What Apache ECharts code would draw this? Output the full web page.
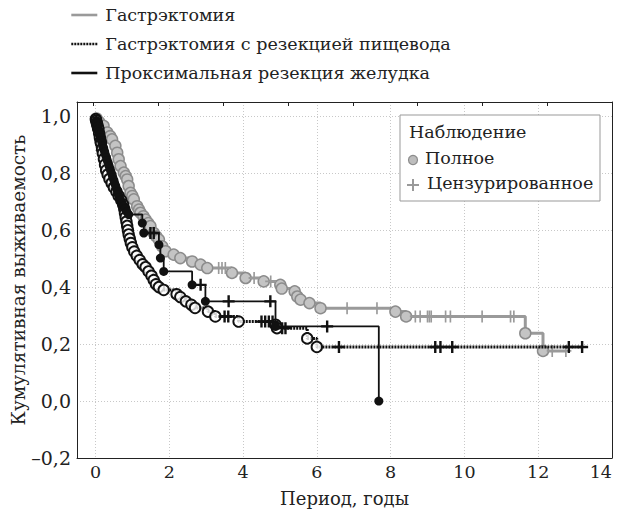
<!DOCTYPE html>
<html>
<head>
<meta charset="utf-8">
<script src="https://cdn.jsdelivr.net/npm/echarts@6/dist/echarts.min.js"></script>
<style>html,body{margin:0;padding:0;background:#fff}#c{width:621px;height:523px}</style>
</head>
<body>
<div id="c"></div>
<script>
// ---- data ----
const seriesNames = ['Гастрэктомия', 'Гастрэктомия с резекцией пищевода', 'Проксимальная резекция желудка'];
const xTicks = [0, 2, 4, 6, 8, 10, 12, 14];
const yTicks = [-0.2, 0, 0.2, 0.4, 0.6, 0.8, 1.0];

// Гастрэктомия: events [time, survival]
const gastEvents = [[0.03,0.992],[0.10,0.980],[0.22,0.966],[0.32,0.943],[0.40,0.930],[0.45,0.919],[0.54,0.896],[0.59,0.872],[0.63,0.849],[0.68,0.825],[0.77,0.802],[0.82,0.790],[0.86,0.778],[0.90,0.755],[0.95,0.731],[1.00,0.720],[1.04,0.708],[1.13,0.684],[1.18,0.672],[1.22,0.661],[1.30,0.649],[1.36,0.637],[1.43,0.625],[1.49,0.614],[1.58,0.59],[1.65,0.578],[1.72,0.567],[1.81,0.543],[1.90,0.526],[2.12,0.514],[2.30,0.502],[2.62,0.49],[2.85,0.479],[3.03,0.467],[3.70,0.45],[4.07,0.432],[4.56,0.42],[5.01,0.408],[5.05,0.395],[5.40,0.385],[5.47,0.367],[5.56,0.356],[5.80,0.344],[6.10,0.326],[8.13,0.314],[8.42,0.297],[11.65,0.238],[12.13,0.176]];
const gastCensored = [3.34,3.43,3.52,4.30,4.75,6.82,7.63,8.67,8.80,9.00,9.05,9.10,9.49,9.62,10.48,11.25,11.34,12.38,12.75];
const gastEnd = 12.75;

// Гастрэктомия с резекцией пищевода
const esoEvents = [[0.01,0.99],[0.02,0.985],[0.04,0.975],[0.05,0.97],[0.07,0.96],[0.08,0.955],[0.10,0.94],[0.12,0.925],[0.14,0.912],[0.15,0.905],[0.18,0.885],[0.20,0.87],[0.23,0.85],[0.26,0.83],[0.29,0.81],[0.33,0.795],[0.38,0.78],[0.44,0.765],[0.50,0.75],[0.57,0.735],[0.63,0.72],[0.70,0.705],[0.75,0.69],[0.78,0.675],[0.80,0.66],[0.82,0.645],[0.84,0.63],[0.86,0.615],[0.88,0.60],[0.90,0.585],[0.93,0.57],[0.96,0.555],[1.00,0.54],[1.05,0.525],[1.12,0.51],[1.20,0.495],[1.28,0.48],[1.36,0.47],[1.44,0.455],[1.52,0.44],[1.58,0.425],[1.64,0.41],[1.72,0.40],[1.85,0.39],[2.20,0.375],[2.30,0.365],[2.45,0.35],[2.60,0.338],[2.70,0.327],[3.05,0.314],[3.25,0.297],[3.88,0.279],[4.88,0.268],[4.92,0.256],[5.74,0.22],[6.00,0.19]];
const esoCensored = [3.50,3.60,4.50,4.60,4.70,4.80,5.06,5.15,6.60,9.21,9.35,9.67,12.83,13.19];
const esoEnd = 13.2;

// Проксимальная резекция желудка
const proxEvents = [[0.02,0.985],[0.04,0.975],[0.06,0.965],[0.08,0.955],[0.10,0.945],[0.12,0.935],[0.14,0.925],[0.16,0.915],[0.18,0.905],[0.20,0.895],[0.22,0.885],[0.25,0.875],[0.27,0.865],[0.30,0.855],[0.32,0.845],[0.35,0.835],[0.37,0.825],[0.40,0.815],[0.42,0.805],[0.45,0.795],[0.47,0.785],[0.50,0.775],[0.52,0.765],[0.55,0.755],[0.57,0.745],[0.60,0.735],[0.62,0.725],[0.65,0.715],[0.68,0.705],[0.72,0.695],[0.76,0.685],[0.80,0.675],[0.85,0.665],[0.90,0.655],[1.27,0.625],[1.31,0.59],[1.72,0.549],[1.76,0.502],[1.85,0.455],[2.62,0.408],[2.98,0.35],[4.88,0.262],[7.68,0.0]];
const proxCensored = [1.49,1.58,2.85,3.61,4.74,6.28];
const proxEnd = 7.68;

// ---- helpers ----
function survAt(events, t) {
  let s = 1.0;
  for (const e of events) { if (e[0] <= t) s = e[1]; }
  return s;
}
function stepLine(events, censored, end) {
  const pts = [[0, 1.0]];
  const all = events.map(e => [e[0], e[1]]).concat(censored.map(t => [t, survAt(events, t)]));
  all.sort((a, b) => a[0] - b[0]);
  all.forEach(p => pts.push(p));
  pts.push([end, survAt(events, end)]);
  return pts;
}
function censPts(events, censored) {
  return censored.map(t => [t, survAt(events, t)]);
}

const PLUS = 'path://M4,0H6V4H10V6H6V10H4V6H0V4H4Z';
const PLUS_THIN = 'path://M4.25,0H5.75V4.25H10V5.75H5.75V10H4.25V5.75H0V4.25H4.25Z';
const FONT = 'DejaVu Serif';

const chart = echarts.init(document.getElementById('c'), null, {renderer: 'svg'});
const fmtY = v => {
  if (Math.abs(Math.round(v * 5) - v * 5) > 1e-6) return '';
  const r = Math.round(v * 10) / 10;
  return (r < 0 ? '–' : '') + Math.abs(r).toFixed(1).replace('.', ',');
};

chart.setOption({
  animation: false,
  textStyle: {fontFamily: FONT, color: '#222'},
  grid: {left: 77, right: 9, top: 102, bottom: 65, containLabel: false, outerBoundsMode: 'none'},
  legend: {
    data: seriesNames,
    orient: 'vertical', left: 65, top: 1,
    itemWidth: 26, itemHeight: 14, itemGap: 11,
    itemStyle: {opacity: 0},
    lineStyle: {width: 2.6},
    textStyle: {fontFamily: FONT, fontSize: 17.5, color: '#222', padding: [0, 0, 0, 3]}
  },
  xAxis: [{
    type: 'value', min: -0.5, max: 14,
    axisLine: {show: true, onZero: false, lineStyle: {color: '#222', width: 1}},
    axisTick: {show: false, customValues: xTicks},
    axisLabel: {customValues: xTicks, fontFamily: FONT, fontSize: 17.5, color: '#222', margin: 5, alignMaxLabel: 'right'},
    splitLine: {show: true, lineStyle: {color: '#c8c8c8', type: [1, 2], width: 1}},
    name: 'Период, годы', nameLocation: 'middle', nameGap: 31,
    nameTextStyle: {fontFamily: FONT, fontSize: 18, color: '#222'}
  }, {
    type: 'value', position: 'top', min: -0.257, max: 8.0,
    axisLine: {show: true, onZero: false, lineStyle: {color: '#222', width: 1}},
    axisTick: {show: true, inside: true, length: 4, customValues: [0,1,2,3,4,5,6,7,8], lineStyle: {color: '#222'}},
    axisLabel: {show: false},
    splitLine: {show: false}
  }],
  yAxis: [{
    type: 'value', min: -0.2, max: 1.05, interval: 0.2,
    axisLine: {show: true, onZero: false, lineStyle: {color: '#222', width: 1}},
    axisTick: {show: false},
    axisLabel: {formatter: fmtY, fontFamily: FONT, fontSize: 19, color: '#222', margin: 6},
    splitLine: {show: true, lineStyle: {color: '#c8c8c8', type: [1, 2], width: 1}},
    name: 'Кумулятивная выживаемость', nameLocation: 'middle', nameGap: 49, nameRotate: 90,
    nameMoveOverlap: false,
    nameTextStyle: {fontFamily: FONT, fontSize: 18.5, color: '#222'}
  }, {
    type: 'value', position: 'right', min: -0.2, max: 1.05, interval: 0.2,
    axisLine: {show: true, onZero: false, lineStyle: {color: '#222', width: 1}},
    axisTick: {show: false}, axisLabel: {show: false}, splitLine: {show: false}
  }],
  series: [
    {name: seriesNames[0], type: 'line', step: 'end', symbol: 'none', z: 2,
     data: stepLine(gastEvents, gastCensored, gastEnd),
     lineStyle: {color: '#9a9a9a', width: 3}, itemStyle: {color: '#9a9a9a'}},
    {name: 'g-ev', type: 'scatter', z: 2, data: gastEvents, symbol: 'circle', symbolSize: 11,
     itemStyle: {color: '#c4c4c4', borderColor: '#8c8c8c', borderWidth: 1.5, opacity: 1}},
    {name: 'g-cn', type: 'scatter', z: 2, data: censPts(gastEvents, gastCensored), symbol: PLUS_THIN, symbolSize: [11, 12],
     itemStyle: {color: '#9a9a9a', opacity: 1}},

    {name: seriesNames[1], type: 'line', step: 'end', symbol: 'none', z: 3,
     data: stepLine(esoEvents, esoCensored, esoEnd),
     lineStyle: {color: '#111', width: 3, type: [2, 1]}, itemStyle: {color: '#111'}},
    {name: 'e-ev', type: 'scatter', z: 3, data: esoEvents, symbol: 'circle', symbolSize: 10.5,
     itemStyle: {color: 'rgba(255,255,255,0.8)', borderColor: '#111', borderWidth: 1.9, opacity: 1}},
    {name: 'e-cn', type: 'scatter', z: 3, data: censPts(esoEvents, esoCensored), symbol: PLUS, symbolSize: [12, 12],
     itemStyle: {color: '#111', opacity: 1}},

    {name: seriesNames[2], type: 'line', step: 'end', symbol: 'none', z: 4,
     data: stepLine(proxEvents, proxCensored, proxEnd),
     lineStyle: {color: '#111', width: 1.8}, itemStyle: {color: '#111'}},
    {name: 'p-ev', type: 'scatter', z: 4, data: proxEvents, symbol: 'circle', symbolSize: 9,
     itemStyle: {color: '#111', opacity: 1}},
    {name: 'p-cn', type: 'scatter', z: 4, data: censPts(proxEvents, proxCensored), symbol: PLUS, symbolSize: [12, 12],
     itemStyle: {color: '#111', opacity: 1}}
  ],
  graphic: [
    {type: 'rect', shape: {x: 400, y: 115, width: 200, height: 86}, z: 100,
     style: {fill: '#fff', stroke: '#999', lineWidth: 1}},
    {type: 'text', x: 409, y: 123, z: 101,
     style: {text: 'Наблюдение', font: '17.5px "DejaVu Serif"', fill: '#222'}},
    {type: 'circle', shape: {cx: 413, cy: 160, r: 4.5}, z: 101,
     style: {fill: '#bdbdbd', stroke: '#8c8c8c', lineWidth: 1.2}},
    {type: 'text', x: 425, y: 149, z: 101,
     style: {text: 'Полное', font: '17.5px "DejaVu Serif"', fill: '#222'}},
    {type: 'polygon', z: 101,
     shape: {points: [[412,179],[414,179],[414,184],[419,184],[419,186],[414,186],[414,191],[412,191],[412,186],[407,186],[407,184],[412,184]]},
     style: {fill: '#9a9a9a'}},
    {type: 'text', x: 427, y: 174, z: 101,
     style: {text: 'Цензурированное', font: '17.5px "DejaVu Serif"', fill: '#222'}}
  ]
});
</script>
</body>
</html>
